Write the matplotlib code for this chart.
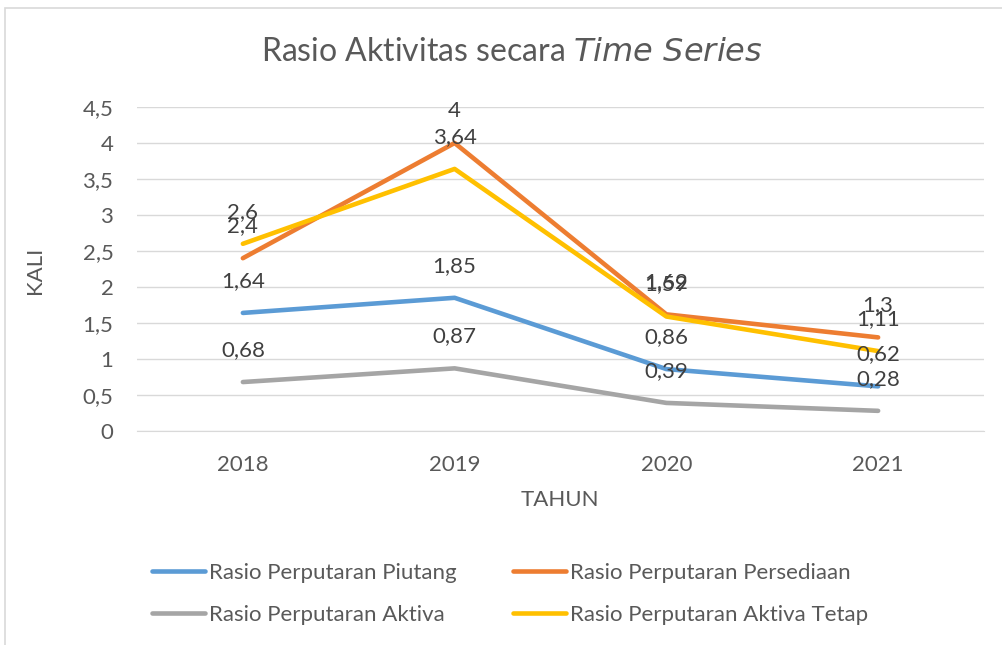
import matplotlib.pyplot as plt
from matplotlib.patches import Rectangle
from matplotlib.ticker import FuncFormatter

years = ['2018', '2019', '2020', '2021']
piutang = [1.64, 1.85, 0.86, 0.62]
persediaan = [2.4, 4, 1.62, 1.3]
aktiva = [0.68, 0.87, 0.39, 0.28]
aktiva_tetap = [2.6, 3.64, 1.59, 1.11]

series = [
    ('Rasio Perputaran Piutang', piutang, '#5B9BD5'),
    ('Rasio Perputaran Persediaan', persediaan, '#ED7D31'),
    ('Rasio Perputaran Aktiva', aktiva, '#A5A5A5'),
    ('Rasio Perputaran Aktiva Tetap', aktiva_tetap, '#FFC000'),
]

txt = '#595959'
plt.rcParams['font.family'] = ['Lato', 'DejaVu Sans']

fig = plt.figure(figsize=(10.02, 6.45), dpi=100)
fig.patches.append(Rectangle((5 / 1002, -0.01), 1.0, 1 - 8 / 645 + 0.01,
                             transform=fig.transFigure, fill=False,
                             edgecolor='#D9D9D9', linewidth=1.2))

ax = fig.add_axes([137 / 1002, 1 - 431 / 645, (984 - 137) / 1002, (431 - 107) / 645])

def comma(v, pos=None):
    return ('%g' % v).replace('.', ',')

x = list(range(len(years)))
handles = []
for name, vals, col in series:
    ln, = ax.plot(x, vals, color=col, lw=3.3, label=name, solid_capstyle='round')
    handles.append(ln)
    for xi, v in zip(x, vals):
        ax.annotate(comma(v), (xi, v), xytext=(0, 23), textcoords='offset points',
                    ha='center', va='center', fontsize=16, color='#404040')

ax.set_xlim(-0.5, 3.5)
ax.set_ylim(0, 4.5)
ax.set_yticks([0, 0.5, 1, 1.5, 2, 2.5, 3, 3.5, 4, 4.5])
ax.yaxis.set_major_formatter(FuncFormatter(comma))
ax.set_xticks(x)
ax.set_xticklabels(years)
ax.grid(axis='y', color='#D9D9D9', lw=1)
ax.set_axisbelow(True)
for s in ['top', 'right', 'left']:
    ax.spines[s].set_visible(False)
ax.spines['bottom'].set_color('#D9D9D9')
ax.tick_params(length=0, labelsize=16, labelcolor=txt)
ax.tick_params(axis='y', pad=17)
ax.tick_params(axis='x', pad=17)

fig.text(512 / 1002, 1 - 52 / 645, 'Rasio Aktivitas secara $\\it{Time\\ Series}$',
         ha='center', va='center', fontsize=23, color=txt)
fig.text(560 / 1002, 1 - 500 / 645, 'TAHUN', ha='center', va='center',
         fontsize=16, color=txt)
fig.text(35 / 1002, 1 - 270 / 645, 'KALI', ha='center', va='center',
         fontsize=16, color=txt, rotation=90)

# row-wise order like the reference: matplotlib fills columns first
order = [0, 2, 1, 3]
fig.legend([handles[i] for i in order], [series[i][0] for i in order],
           loc='center', bbox_to_anchor=(510 / 1002, 1 - 594 / 645), ncol=2,
           frameon=False, fontsize=16, labelcolor=txt, handlelength=2.4,
           handletextpad=0.2, columnspacing=2.5, labelspacing=1.0)

fig.savefig('out.png', dpi=100)
